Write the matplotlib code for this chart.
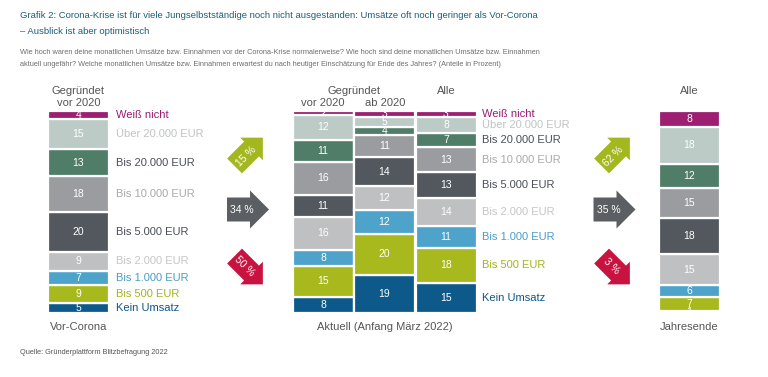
import numpy as np
import matplotlib
matplotlib.use("Agg")
import matplotlib.pyplot as plt
from matplotlib.patches import Polygon

# ---------------- data ----------------
categories = ["Kein Umsatz", "Bis 500 EUR", "Bis 1.000 EUR", "Bis 2.000 EUR",
              "Bis 5.000 EUR", "Bis 10.000 EUR", "Bis 20.000 EUR",
              "Über 20.000 EUR", "Weiß nicht"]
vor_corona = [5, 9, 7, 9, 20, 18, 13, 15, 4]
aktuell_vor2020 = [8, 15, 8, 16, 11, 16, 11, 12, 2]
aktuell_ab2020 = [19, 20, 12, 12, 14, 11, 4, 5, 3]
aktuell_alle = [15, 18, 11, 14, 13, 13, 7, 8, 3]
jahresende_alle = [1, 7, 6, 15, 18, 15, 12, 18, 8]

arrow_labels_aktuell = ["15 %", "34 %", "50 %"]   # up, same, down
arrow_labels_jahresende = ["62 %", "35 %", "3 %"]

# ---------------- styles ----------------
seg_colors = ["#0D5A8A", "#A7B91D", "#4EA3CB", "#BEC0C2", "#53585E",
              "#9A9C9F", "#4F7D68", "#BCCBC6", "#9C1F72"]
lab_colors = ["#0E5686", "#A4B41C", "#4A9CC6", "#C4C6C8", "#4A4F55",
              "#A8AAAD", "#4A4F55", "#C0C4C2", "#9B1B6E"]

plt.rcParams["font.family"] = ["Liberation Sans", "DejaVu Sans"]

W, H = 768, 377
fig = plt.figure(figsize=(W / 100, H / 100), dpi=100)

# bar axes: x in pixels, y in percent
BAR_TOP, BAR_BOT = 111, 313
axb = fig.add_axes([0, 1 - BAR_BOT / H, 1, (BAR_BOT - BAR_TOP) / H])
axb.set_xlim(0, W)
axb.set_ylim(0, 100)
axb.axis("off")

# overlay axes in pixel coords
ax = fig.add_axes([0, 0, 1, 1], zorder=3)
ax.set_xlim(0, W)
ax.set_ylim(H, 0)
ax.axis("off")

bar_w = 61
columns = [(78.5, vor_corona), (323, aktuell_vor2020), (384.5, aktuell_ab2020),
           (446, aktuell_alle), (689, jahresende_alle)]

centers = {}
for xc, vals in columns:
    vals = np.array(vals, dtype=float)
    scaled = vals / vals.sum() * 100
    bottoms = np.concatenate([[0], np.cumsum(scaled)[:-1]])
    axb.bar([xc] * len(vals), scaled, bottom=bottoms, width=bar_w,
            color=seg_colors, edgecolor="white", linewidth=1.6)
    mids = bottoms + scaled / 2
    centers[xc] = mids
    for v, m in zip(vals, mids):
        axb.text(xc, m, f"{int(v)}", ha="center", va="center",
                 color="white", fontsize=7.5)

# category labels
for xc, lx in [(78.5, 116), (446, 482)]:
    for cat, m, c in zip(categories, centers[xc], lab_colors):
        axb.text(lx, m, cat, ha="left", va="center", color=c, fontsize=8)

# headers
hc = "#555555"
ax.text(78.5, 91, "Gegründet", ha="center", va="center", color=hc, fontsize=8)
ax.text(78.5, 103, "vor 2020", ha="center", va="center", color=hc, fontsize=8)
ax.text(354, 91, "Gegründet", ha="center", va="center", color=hc, fontsize=8)
ax.text(323, 103, "vor 2020", ha="center", va="center", color=hc, fontsize=8)
ax.text(385, 103, "ab 2020", ha="center", va="center", color=hc, fontsize=8)
ax.text(446, 91, "Alle", ha="center", va="center", color=hc, fontsize=8)
ax.text(689, 91, "Alle", ha="center", va="center", color=hc, fontsize=8)

ax.text(79, 327, "Vor-Corona", ha="center", va="center", color=hc, fontsize=8)
ax.text(385, 327, "Aktuell (Anfang März 2022)", ha="center", va="center", color=hc, fontsize=8)
ax.text(689, 327, "Jahresende", ha="center", va="center", color=hc, fontsize=8)

# title / subtitle / source
tc = "#1B5E78"
ax.text(20, 15, "Grafik 2: Corona-Krise ist für viele Jungselbstständige noch nicht ausgestanden: Umsätze oft noch geringer als Vor-Corona",
        ha="left", va="center", color=tc, fontsize=6.8)
ax.text(20, 32, "– Ausblick ist aber optimistisch",
        ha="left", va="center", color=tc, fontsize=6.8)
sc = "#6E6E6E"
ax.text(20, 53, "Wie hoch waren deine monatlichen Umsätze bzw. Einnahmen vor der Corona-Krise normalerweise? Wie hoch sind deine monatlichen Umsätze bzw. Einnahmen",
        ha="left", va="center", color=sc, fontsize=5.3)
ax.text(20, 64.5, "aktuell ungefähr? Welche monatlichen Umsätze bzw. Einnahmen erwartest du nach heutiger Einschätzung für Ende des Jahres? (Anteile in Prozent)",
        ha="left", va="center", color=sc, fontsize=5.3)
ax.text(20, 352, "Quelle: Gründerplattform Blitzbefragung 2022",
        ha="left", va="center", color="#555555", fontsize=5.3)


# arrows
def draw_arrow(cx, cy, L, h, b, angle, color):
    pts = np.array([(0, b), (L - h, b), (L - h, h), (L, 0),
                    (L - h, -h), (L - h, -b), (0, -b)], dtype=float)
    a = np.deg2rad(angle)
    R = np.array([[np.cos(a), -np.sin(a)], [np.sin(a), np.cos(a)]])
    p = pts @ R.T
    xc = (p[:, 0].min() + p[:, 0].max()) / 2
    yc = (p[:, 1].min() + p[:, 1].max()) / 2
    px = cx + (p[:, 0] - xc)
    py = cy - (p[:, 1] - yc)
    ax.add_patch(Polygon(np.column_stack([px, py]), closed=True,
                         facecolor=color, edgecolor="none"))


green, grey, red = "#A3B71F", "#5B5F63", "#C8123F"
for (gx, gy), labels in [((245, 248), arrow_labels_aktuell),
                         ((612, 614.5), arrow_labels_jahresende)]:
    draw_arrow(gx, 155.5, 40, 16, 10.5, 45, green)
    draw_arrow(gy, 209.5, 42, 19, 12, 0, grey)
    draw_arrow(gx, 266.5, 40, 16, 10.5, -45, red)
    ax.text(gx + 1, 156, labels[0], rotation=45, ha="center", va="center",
            color="white", fontsize=7.5, rotation_mode="anchor")
    ax.text(gy - 6, 210, labels[1], ha="center", va="center",
            color="white", fontsize=7.5)
    ax.text(gx - 1, 266, labels[2], rotation=-45, ha="center", va="center",
            color="white", fontsize=7.5, rotation_mode="anchor")

fig.savefig("out.png", dpi=100)
